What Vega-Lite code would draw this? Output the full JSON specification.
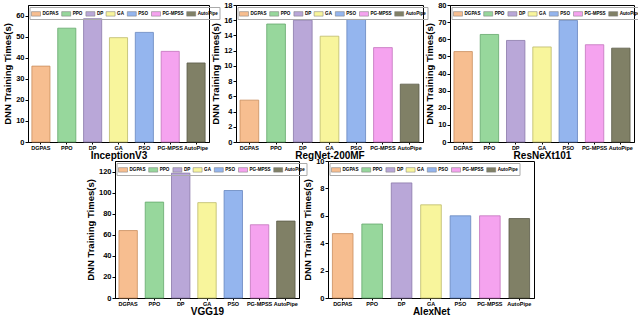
{
  "$schema": "https://vega.github.io/schema/vega-lite/v6.json",
  "padding": {"left": 2, "top": 0, "right": 0, "bottom": 0},
  "background": "white",
  "spacing": -5,
  "datasets": {
    "d": [
      {"model": "InceptionV3", "method": "DGPAS", "time": 36},
      {"model": "InceptionV3", "method": "PPO", "time": 54},
      {"model": "InceptionV3", "method": "DP", "time": 58.5},
      {"model": "InceptionV3", "method": "GA", "time": 49.5},
      {"model": "InceptionV3", "method": "PSO", "time": 52},
      {"model": "InceptionV3", "method": "PG-MPSS", "time": 43},
      {"model": "InceptionV3", "method": "AutoPipe", "time": 37.5},
      {"model": "RegNet-200MF", "method": "DGPAS", "time": 5.5},
      {"model": "RegNet-200MF", "method": "PPO", "time": 15.5},
      {"model": "RegNet-200MF", "method": "DP", "time": 16},
      {"model": "RegNet-200MF", "method": "GA", "time": 13.9},
      {"model": "RegNet-200MF", "method": "PSO", "time": 16.1},
      {"model": "RegNet-200MF", "method": "PG-MPSS", "time": 12.4},
      {"model": "RegNet-200MF", "method": "AutoPipe", "time": 7.6},
      {"model": "ResNeXt101", "method": "DGPAS", "time": 52.8},
      {"model": "ResNeXt101", "method": "PPO", "time": 62.8},
      {"model": "ResNeXt101", "method": "DP", "time": 59.3},
      {"model": "ResNeXt101", "method": "GA", "time": 55.5},
      {"model": "ResNeXt101", "method": "PSO", "time": 71},
      {"model": "ResNeXt101", "method": "PG-MPSS", "time": 56.8},
      {"model": "ResNeXt101", "method": "AutoPipe", "time": 54.8},
      {"model": "VGG19", "method": "DGPAS", "time": 64},
      {"model": "VGG19", "method": "PPO", "time": 91},
      {"model": "VGG19", "method": "DP", "time": 118.5},
      {"model": "VGG19", "method": "GA", "time": 90.5},
      {"model": "VGG19", "method": "PSO", "time": 102},
      {"model": "VGG19", "method": "PG-MPSS", "time": 69.5},
      {"model": "VGG19", "method": "AutoPipe", "time": 73},
      {"model": "AlexNet", "method": "DGPAS", "time": 4.7},
      {"model": "AlexNet", "method": "PPO", "time": 5.4},
      {"model": "AlexNet", "method": "DP", "time": 8.4},
      {"model": "AlexNet", "method": "GA", "time": 6.8},
      {"model": "AlexNet", "method": "PSO", "time": 6.0},
      {"model": "AlexNet", "method": "PG-MPSS", "time": 6.0},
      {"model": "AlexNet", "method": "AutoPipe", "time": 5.8}
    ]
  },
  "resolve": {"legend": {"fill": "independent"}},
  "vconcat": [
    {
      "bounds": "flush",
      "spacing": 27,
      "resolve": {"legend": {"fill": "independent"}},
      "hconcat": [
        {
          "width": 181, "height": 137,
          "data": {"name": "d"},
          "transform": [{"filter": "datum.model === 'InceptionV3'"}],
          "mark": {"type": "bar", "strokeWidth": 0.8},
          "encoding": {
            "x": {"field": "method", "type": "nominal", "sort": ["DGPAS", "PPO", "DP", "GA", "PSO", "PG-MPSS", "AutoPipe"], "scale": {"paddingInner": 0.3, "paddingOuter": 0.15}, "axis": {"title": "InceptionV3"}},
            "y": {"field": "time", "type": "quantitative", "scale": {"domain": [0, 65], "nice": false}, "axis": {"title": "DNN Training Times(s)", "values": [0, 10, 20, 30, 40, 50, 60]}},
            "fill": {"field": "method", "type": "nominal", "scale": {"domain": ["DGPAS", "PPO", "DP", "GA", "PSO", "PG-MPSS", "AutoPipe"], "range": ["#F7BE90", "#97D79C", "#B9A7D8", "#F8F59C", "#94B5EE", "#F5A3EF", "#808066"]}, "legend": {"title": null, "orient": "none", "direction": "horizontal", "legendX": 1.5, "legendY": 2}},
            "stroke": {"field": "method", "type": "nominal", "scale": {"domain": ["DGPAS", "PPO", "DP", "GA", "PSO", "PG-MPSS", "AutoPipe"], "range": ["#C98E5E", "#64A86C", "#8A78AA", "#BDBA6A", "#6787BF", "#C375BD", "#5B5B47"]}, "legend": null}
          }
        },
        {
          "width": 187, "height": 137,
          "data": {"name": "d"},
          "transform": [{"filter": "datum.model === 'RegNet-200MF'"}],
          "mark": {"type": "bar", "strokeWidth": 0.8},
          "encoding": {
            "x": {"field": "method", "type": "nominal", "sort": ["DGPAS", "PPO", "DP", "GA", "PSO", "PG-MPSS", "AutoPipe"], "scale": {"paddingInner": 0.3, "paddingOuter": 0.15}, "axis": {"title": "RegNet-200MF"}},
            "y": {"field": "time", "type": "quantitative", "scale": {"domain": [0, 18], "nice": false}, "axis": {"title": "DNN Training Times(s)", "values": [0, 2, 4, 6, 8, 10, 12, 14, 16, 18]}},
            "fill": {"field": "method", "type": "nominal", "scale": {"domain": ["DGPAS", "PPO", "DP", "GA", "PSO", "PG-MPSS", "AutoPipe"], "range": ["#F7BE90", "#97D79C", "#B9A7D8", "#F8F59C", "#94B5EE", "#F5A3EF", "#808066"]}, "legend": {"title": null, "orient": "none", "direction": "horizontal", "legendX": 1.5, "legendY": 2}},
            "stroke": {"field": "method", "type": "nominal", "scale": {"domain": ["DGPAS", "PPO", "DP", "GA", "PSO", "PG-MPSS", "AutoPipe"], "range": ["#C98E5E", "#64A86C", "#8A78AA", "#BDBA6A", "#6787BF", "#C375BD", "#5B5B47"]}, "legend": null}
          }
        },
        {
          "width": 184, "height": 137,
          "data": {"name": "d"},
          "transform": [{"filter": "datum.model === 'ResNeXt101'"}],
          "mark": {"type": "bar", "strokeWidth": 0.8},
          "encoding": {
            "x": {"field": "method", "type": "nominal", "sort": ["DGPAS", "PPO", "DP", "GA", "PSO", "PG-MPSS", "AutoPipe"], "scale": {"paddingInner": 0.3, "paddingOuter": 0.15}, "axis": {"title": "ResNeXt101"}},
            "y": {"field": "time", "type": "quantitative", "scale": {"domain": [0, 80], "nice": false}, "axis": {"title": "DNN Training Times(s)", "values": [0, 10, 20, 30, 40, 50, 60, 70, 80]}},
            "fill": {"field": "method", "type": "nominal", "scale": {"domain": ["DGPAS", "PPO", "DP", "GA", "PSO", "PG-MPSS", "AutoPipe"], "range": ["#F7BE90", "#97D79C", "#B9A7D8", "#F8F59C", "#94B5EE", "#F5A3EF", "#808066"]}, "legend": {"title": null, "orient": "none", "direction": "horizontal", "legendX": 1.5, "legendY": 2}},
            "stroke": {"field": "method", "type": "nominal", "scale": {"domain": ["DGPAS", "PPO", "DP", "GA", "PSO", "PG-MPSS", "AutoPipe"], "range": ["#C98E5E", "#64A86C", "#8A78AA", "#BDBA6A", "#6787BF", "#C375BD", "#5B5B47"]}, "legend": null}
          }
        }
      ]
    },
    {
      "bounds": "flush",
      "spacing": 29,
      "resolve": {"legend": {"fill": "independent"}},
      "hconcat": [
        {
          "width": 58, "height": 137,
          "data": {"values": []},
          "mark": "point",
          "view": {"stroke": null}
        },
        {
          "width": 184, "height": 137,
          "data": {"name": "d"},
          "transform": [{"filter": "datum.model === 'VGG19'"}],
          "mark": {"type": "bar", "strokeWidth": 0.8},
          "encoding": {
            "x": {"field": "method", "type": "nominal", "sort": ["DGPAS", "PPO", "DP", "GA", "PSO", "PG-MPSS", "AutoPipe"], "scale": {"paddingInner": 0.3, "paddingOuter": 0.15}, "axis": {"title": "VGG19"}},
            "y": {"field": "time", "type": "quantitative", "scale": {"domain": [0, 130], "nice": false}, "axis": {"title": "DNN Training Times(s)", "values": [0, 20, 40, 60, 80, 100, 120]}},
            "fill": {"field": "method", "type": "nominal", "scale": {"domain": ["DGPAS", "PPO", "DP", "GA", "PSO", "PG-MPSS", "AutoPipe"], "range": ["#F7BE90", "#97D79C", "#B9A7D8", "#F8F59C", "#94B5EE", "#F5A3EF", "#808066"]}, "legend": {"title": null, "orient": "none", "direction": "horizontal", "legendX": 1.5, "legendY": 2}},
            "stroke": {"field": "method", "type": "nominal", "scale": {"domain": ["DGPAS", "PPO", "DP", "GA", "PSO", "PG-MPSS", "AutoPipe"], "range": ["#C98E5E", "#64A86C", "#8A78AA", "#BDBA6A", "#6787BF", "#C375BD", "#5B5B47"]}, "legend": null}
          }
        },
        {
          "width": 206, "height": 137,
          "data": {"name": "d"},
          "transform": [{"filter": "datum.model === 'AlexNet'"}],
          "mark": {"type": "bar", "strokeWidth": 0.8},
          "encoding": {
            "x": {"field": "method", "type": "nominal", "sort": ["DGPAS", "PPO", "DP", "GA", "PSO", "PG-MPSS", "AutoPipe"], "scale": {"paddingInner": 0.3, "paddingOuter": 0.15}, "axis": {"title": "AlexNet"}},
            "y": {"field": "time", "type": "quantitative", "scale": {"domain": [0, 10], "nice": false}, "axis": {"title": "DNN Training Times(s)", "values": [0, 2, 4, 6, 8, 10]}},
            "fill": {"field": "method", "type": "nominal", "scale": {"domain": ["DGPAS", "PPO", "DP", "GA", "PSO", "PG-MPSS", "AutoPipe"], "range": ["#F7BE90", "#97D79C", "#B9A7D8", "#F8F59C", "#94B5EE", "#F5A3EF", "#808066"]}, "legend": {"title": null, "orient": "none", "direction": "horizontal", "legendX": 1.5, "legendY": 2}},
            "stroke": {"field": "method", "type": "nominal", "scale": {"domain": ["DGPAS", "PPO", "DP", "GA", "PSO", "PG-MPSS", "AutoPipe"], "range": ["#C98E5E", "#64A86C", "#8A78AA", "#BDBA6A", "#6787BF", "#C375BD", "#5B5B47"]}, "legend": null}
          }
        }
      ]
    }
  ],
  "config": {
    "font": "Liberation Sans",
    "view": {"stroke": "black", "strokeWidth": 1},
    "axis": {"domainColor": "black", "tickColor": "black", "labelColor": "black", "titleColor": "black", "labelFontWeight": "bold", "titleFontWeight": "bold", "grid": false, "tickSize": 3, "domainWidth": 1},
    "axisX": {"labelAngle": 0, "labelFontSize": 5.5, "titleFontSize": 10, "titlePadding": 0, "labelPadding": 1, "tickSize": 2},
    "axisY": {"labelFontSize": 7.5, "titleFontSize": 9.5, "titlePadding": 3, "labelPadding": 1},
    "legend": {"labelFontSize": 4.6, "labelFontWeight": "bold", "labelColor": "black", "symbolType": "M-1,-0.5H1V0.5H-1Z", "symbolSize": 81, "symbolStrokeColor": "#777", "symbolStrokeWidth": 0.5, "columnPadding": 1.2, "labelOffset": 1.5, "padding": 1.5, "strokeColor": "#aaa", "rowPadding": 0}
  }
}
